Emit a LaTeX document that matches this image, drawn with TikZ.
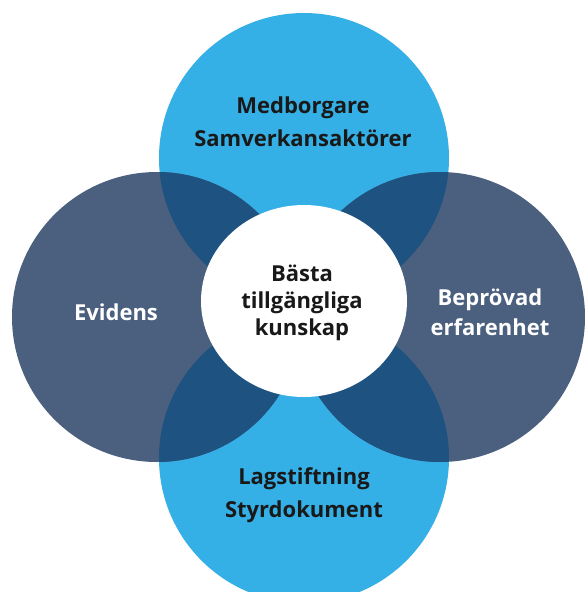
\documentclass[tikz,border=0pt]{standalone}
\usepackage{fontspec}
\setmainfont{Open Sans}
\usetikzlibrary{shapes.geometric}
\definecolor{skyblue}{RGB}{53,176,230}
\definecolor{slateblue}{RGB}{75,95,126}
\definecolor{lensblue}{RGB}{30,82,128}

\begin{document}
\begin{tikzpicture}[x=1pt,y=-1pt]
\tikzstyle{bluecircle} = [circle, inner sep=0pt, minimum size=290pt, fill=skyblue]
\tikzstyle{slatecircle} = [circle, inner sep=0pt, minimum size=290pt, fill=slateblue]
\tikzstyle{centercircle} = [ellipse, inner sep=0pt, minimum width=206pt, minimum height=192pt, fill=white]
\tikzstyle{darklabel} = [align=center, font=\bfseries\fontsize{22}{33}\selectfont, text=black!90]
\tikzstyle{lightlabel} = [align=center, font=\bfseries\fontsize{22}{30}\selectfont, text=white]

\useasboundingbox (0,0) rectangle (587,592);
\clip (0,0) rectangle (587,592);

\node(medborgare) [bluecircle] at (304,158) {};
\node(lagstiftning) [bluecircle] at (304,458) {};
\node(evidens) [slatecircle] at (157,317) {};
\node(beprovad) [slatecircle] at (440,317) {};
% overlaps of the side circles with the blue ones
\begin{scope}
\clip (157,317) circle (145) (440,317) circle (145);
\fill[lensblue] (304,158) circle (145) (304,458) circle (145);
\end{scope}
\node(kunskap) [centercircle] at (304,301) {};

\node(medborgareText) [darklabel] at (303,122) {Medborgare\\Samverkansaktörer};
\node(lagstiftningText) [darklabel] at (304,495) {Lagstiftning\\Styrdokument};
\node(evidensText) [lightlabel] at (116,312) {Evidens};
\node(beprovadText) [lightlabel] at (490,312) {Beprövad\\erfarenhet};
\node(kunskapText) [darklabel, font=\bfseries\fontsize{22}{27}\selectfont] at (302,303) {Bästa\\tillgängliga\\kunskap};
\end{tikzpicture}
\end{document}
